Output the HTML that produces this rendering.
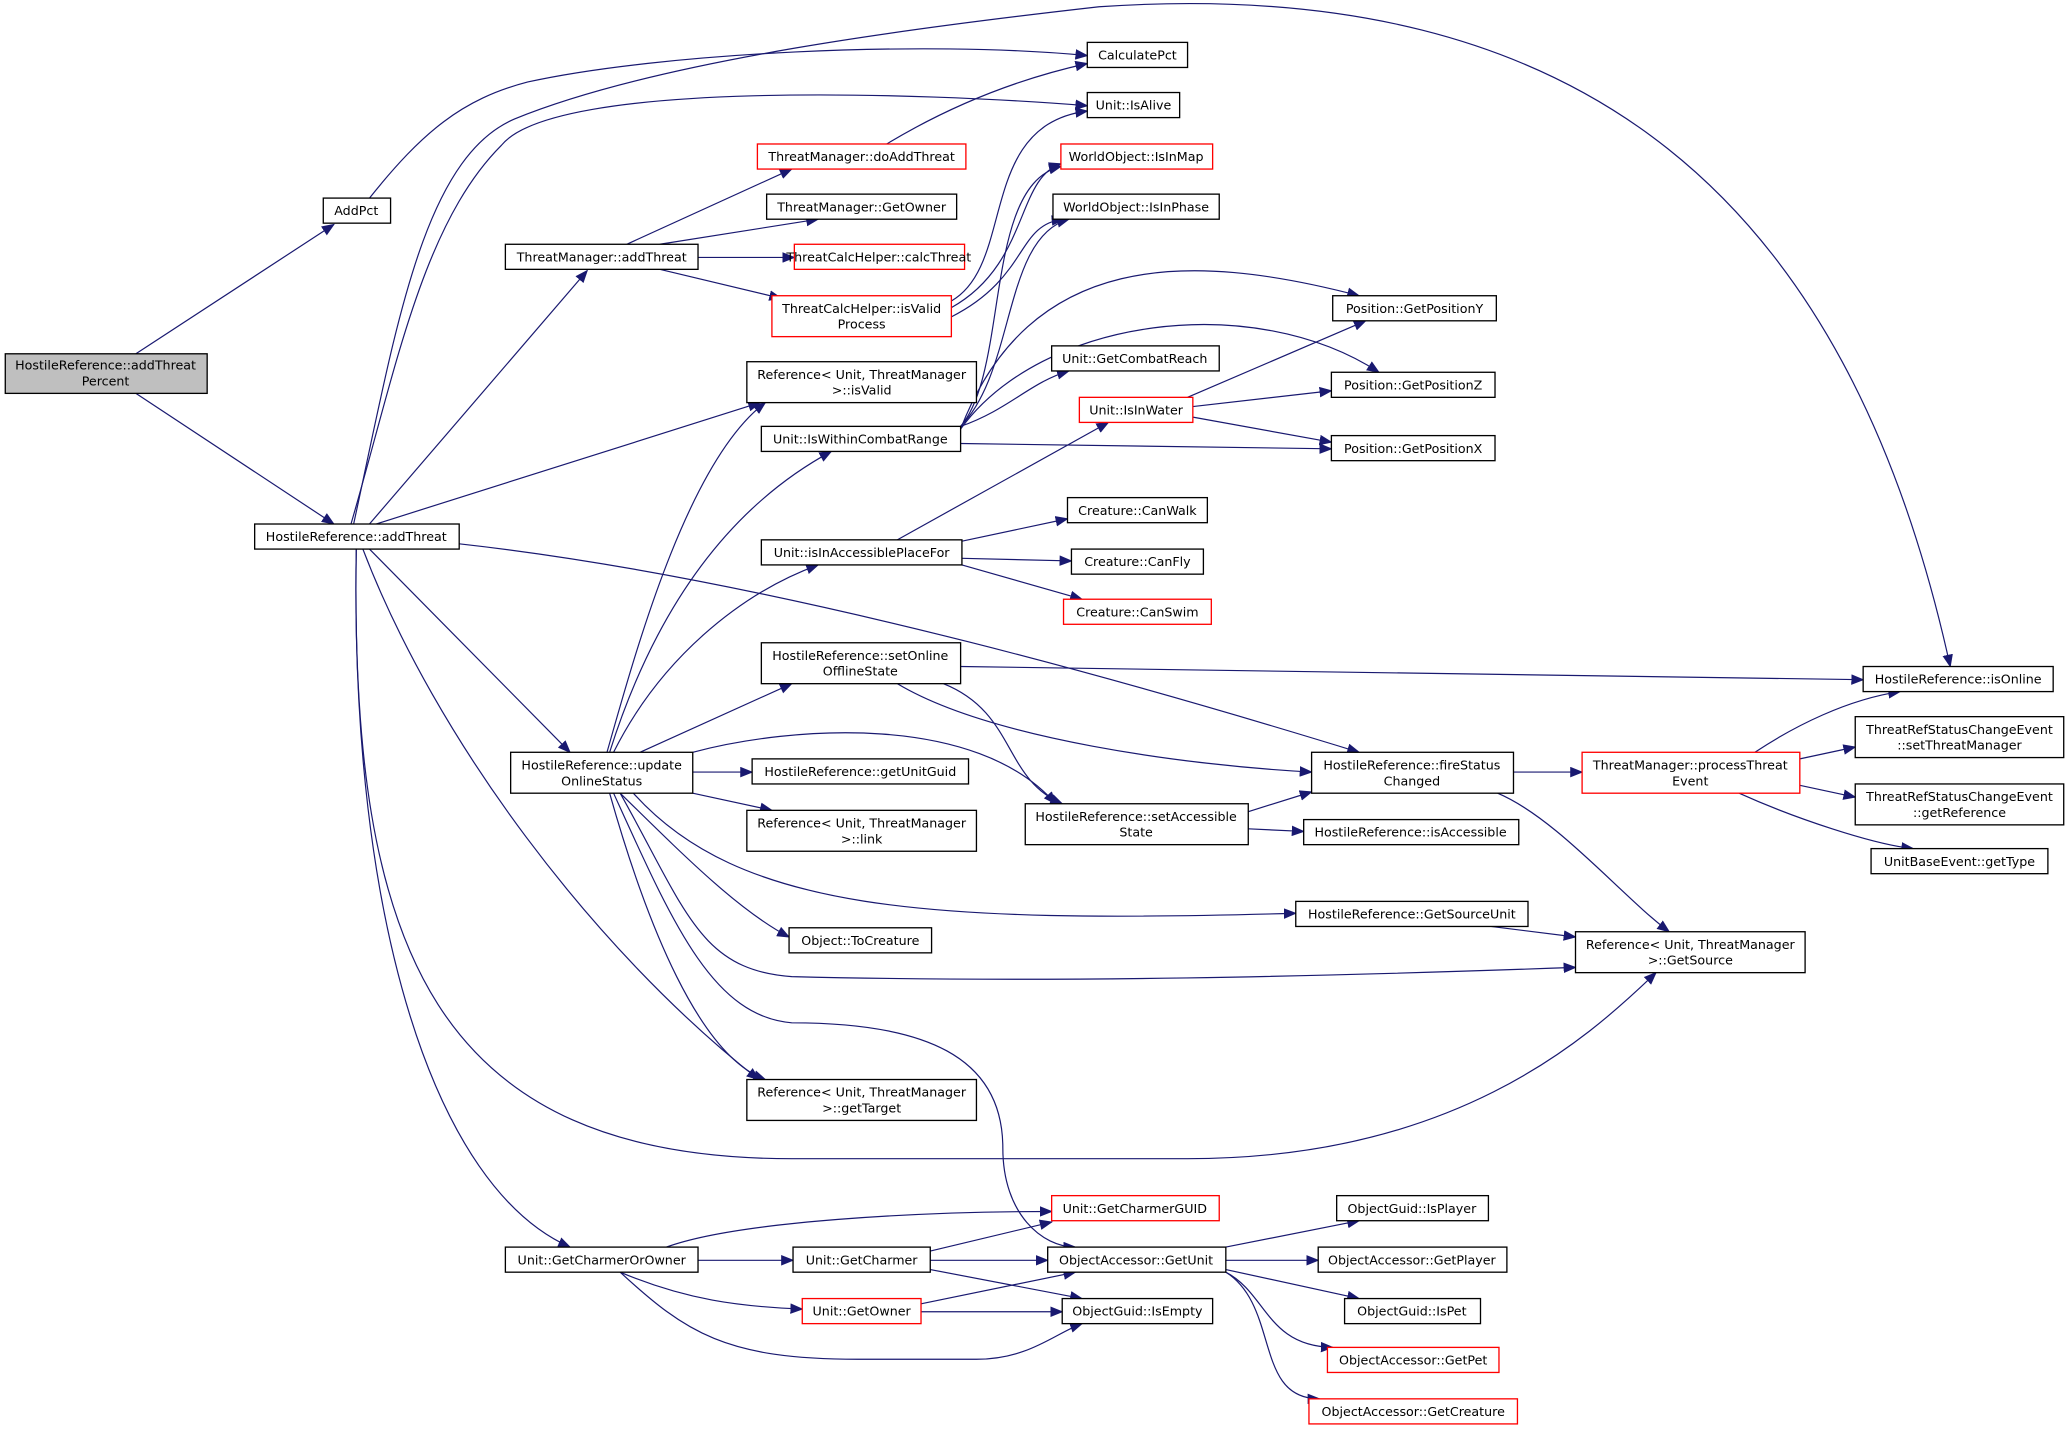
<!DOCTYPE html>
<html><head><meta charset="utf-8"><style>
html,body{margin:0;padding:0;background:#fff;}
svg{display:block;}
text{font-family:"DejaVu Sans","Liberation Sans",sans-serif;font-size:9.6px;fill:#000;text-anchor:middle;}
.n{fill:#fff;stroke:#000;stroke-width:1;}
.r{fill:#fff;stroke:#ff0000;stroke-width:1;}
.g{fill:#bfbfbf;stroke:#000;stroke-width:1;}
.e{fill:none;stroke:#191970;stroke-width:0.9;marker-end:url(#a);}
</style></head><body>
<svg width="2069" height="1432" viewBox="0 0 1568 1085" xmlns="http://www.w3.org/2000/svg">
<defs><marker id="a" markerWidth="10" markerHeight="8" refX="9" refY="4" orient="auto" markerUnits="userSpaceOnUse"><path d="M0,0 L10,4 L0,8 z" fill="#191970"/></marker></defs>
<g>
<path class="e" d="M103,268 L253,170"/>
<path class="e" d="M103,298 L253,397"/>
<path class="e" d="M280,150 C320,100 350,75 400,62 C500,40 700,30 824,42"/>
<path class="e" d="M266,397 C300,280 320,170 380,110 C420,60 700,70 824,80"/>
<path class="e" d="M268,397 C300,250 320,120 390,90 C500,45 700,20 833,5 C1200,-20 1400,150 1478,505"/>
<path class="e" d="M280,397 L445,205"/>
<path class="e" d="M285,397 L576,305"/>
<path class="e" d="M348,412 C600,440 900,530 1030,570"/>
<path class="e" d="M280,416 L432,570"/>
<path class="e" d="M275,416 C330,560 450,720 575,818"/>
<path class="e" d="M270,416 C265,720 330,878 600,878 L900,878 C1100,878 1200,790 1255,737"/>
<path class="e" d="M270,416 C265,700 330,900 432,945"/>
<path class="e" d="M475,185 L600,128"/>
<path class="e" d="M500,185 L620,166"/>
<path class="e" d="M529,195 L602,195"/>
<path class="e" d="M500,204 L592,226"/>
<path class="e" d="M672,109 C720,80 770,60 824,48"/>
<path class="e" d="M721,228 C770,200 740,95 824,84"/>
<path class="e" d="M721,233 C780,200 770,135 804,124"/>
<path class="e" d="M721,240 C780,210 770,170 806,166"/>
<path class="e" d="M728,323 C765,280 745,140 804,126"/>
<path class="e" d="M728,323 C770,280 760,180 810,166"/>
<path class="e" d="M728,325 C780,190 900,190 1030,224"/>
<path class="e" d="M728,325 C790,240 950,220 1045,282"/>
<path class="e" d="M728,323 C765,310 780,290 810,281"/>
<path class="e" d="M728,336 L1009,340"/>
<path class="e" d="M900,301 L1035,243"/>
<path class="e" d="M904,308 L1009,296"/>
<path class="e" d="M904,316 L1009,335"/>
<path class="e" d="M680,409 L840,320"/>
<path class="e" d="M729,410 L809,393"/>
<path class="e" d="M729,423 L812,425"/>
<path class="e" d="M729,428 L820,454"/>
<path class="e" d="M460,570 C480,500 520,350 580,305"/>
<path class="e" d="M462,570 C500,450 560,380 630,342"/>
<path class="e" d="M465,570 C500,500 560,450 620,428"/>
<path class="e" d="M485,570 L600,518"/>
<path class="e" d="M525,585 L570,585"/>
<path class="e" d="M525,601 L585,614"/>
<path class="e" d="M525,570 C600,550 740,540 800,609"/>
<path class="e" d="M470,601 C520,650 560,690 598,710"/>
<path class="e" d="M480,601 C560,690 700,700 982,692"/>
<path class="e" d="M470,601 C520,690 530,735 600,740 C800,745 1000,740 1194,733"/>
<path class="e" d="M462,601 C490,700 530,800 580,818"/>
<path class="e" d="M465,601 C510,700 540,770 600,775 C700,775 760,800 760,870 C760,920 790,945 815,945"/>
<path class="e" d="M728,505 L1412,515"/>
<path class="e" d="M680,518 C750,560 900,580 994,585"/>
<path class="e" d="M715,518 C770,540 760,590 805,609"/>
<path class="e" d="M946,615 L994,600"/>
<path class="e" d="M946,628 L988,630"/>
<path class="e" d="M1147,585 L1199,585"/>
<path class="e" d="M1135,601 C1180,620 1230,680 1265,706"/>
<path class="e" d="M1330,570 C1360,550 1400,530 1440,524"/>
<path class="e" d="M1364,575 L1406,566"/>
<path class="e" d="M1364,595 L1406,604"/>
<path class="e" d="M1318,601 C1360,620 1420,640 1450,643"/>
<path class="e" d="M1130,702 L1194,710"/>
<path class="e" d="M505,945 C560,925 700,918 797,918"/>
<path class="e" d="M529,955 L601,955"/>
<path class="e" d="M470,964 C520,985 560,990 608,992"/>
<path class="e" d="M470,964 C520,1010 550,1030 650,1030 L740,1030 C780,1030 800,1010 820,1003"/>
<path class="e" d="M705,948 L797,926"/>
<path class="e" d="M705,955 L794,955"/>
<path class="e" d="M705,962 L820,984"/>
<path class="e" d="M698,988 L815,964"/>
<path class="e" d="M698,994 L805,994"/>
<path class="e" d="M929,945 L1030,925"/>
<path class="e" d="M929,955 L999,955"/>
<path class="e" d="M929,962 L1030,984"/>
<path class="e" d="M929,964 C960,980 960,1020 1010,1021"/>
<path class="e" d="M929,964 C970,990 950,1060 1000,1060"/>
</g>
<g>
<rect class="g" x="4" y="268" width="153" height="30"/><text x="80" y="280">HostileReference::addThreat</text><text x="80" y="292">Percent</text>
<rect class="n" x="245" y="150" width="51" height="19"/><text x="270" y="163">AddPct</text>
<rect class="n" x="193" y="397" width="155" height="19"/><text x="270" y="410">HostileReference::addThreat</text>
<rect class="n" x="824" y="32" width="76" height="19"/><text x="862" y="45">CalculatePct</text>
<rect class="n" x="824" y="70" width="70" height="19"/><text x="859" y="83">Unit::IsAlive</text>
<rect class="r" x="574" y="109" width="158" height="19"/><text x="653" y="122">ThreatManager::doAddThreat</text>
<rect class="n" x="581" y="147" width="144" height="19"/><text x="653" y="160">ThreatManager::GetOwner</text>
<rect class="n" x="383" y="185" width="146" height="19"/><text x="456" y="198">ThreatManager::addThreat</text>
<rect class="r" x="602" y="185" width="129" height="19"/><text x="666" y="198">ThreatCalcHelper::calcThreat</text>
<rect class="r" x="585" y="224" width="136" height="31"/><text x="653" y="237">ThreatCalcHelper::isValid</text><text x="653" y="249">Process</text>
<rect class="r" x="804" y="109" width="115" height="19"/><text x="861" y="122">WorldObject::IsInMap</text>
<rect class="n" x="798" y="147" width="126" height="19"/><text x="861" y="160">WorldObject::IsInPhase</text>
<rect class="n" x="1010" y="224" width="124" height="19"/><text x="1072" y="237">Position::GetPositionY</text>
<rect class="n" x="797" y="262" width="127" height="19"/><text x="860" y="275">Unit::GetCombatReach</text>
<rect class="n" x="1009" y="282" width="124" height="19"/><text x="1071" y="295">Position::GetPositionZ</text>
<rect class="r" x="818" y="301" width="86" height="19"/><text x="861" y="314">Unit::IsInWater</text>
<rect class="n" x="1009" y="330" width="124" height="19"/><text x="1071" y="343">Position::GetPositionX</text>
<rect class="n" x="566" y="274" width="174" height="31"/><text x="653" y="287">Reference&lt; Unit, ThreatManager</text><text x="653" y="299">&gt;::isValid</text>
<rect class="n" x="577" y="323" width="151" height="19"/><text x="652" y="336">Unit::IsWithinCombatRange</text>
<rect class="n" x="809" y="377" width="106" height="19"/><text x="862" y="390">Creature::CanWalk</text>
<rect class="n" x="577" y="409" width="152" height="19"/><text x="653" y="422">Unit::isInAccessiblePlaceFor</text>
<rect class="n" x="812" y="416" width="100" height="19"/><text x="862" y="429">Creature::CanFly</text>
<rect class="r" x="806" y="454" width="112" height="19"/><text x="862" y="467">Creature::CanSwim</text>
<rect class="n" x="577" y="487" width="151" height="31"/><text x="652" y="500">HostileReference::setOnline</text><text x="652" y="512">OfflineState</text>
<rect class="n" x="1412" y="505" width="144" height="19"/><text x="1484" y="518">HostileReference::isOnline</text>
<rect class="n" x="387" y="570" width="138" height="31"/><text x="456" y="583">HostileReference::update</text><text x="456" y="595">OnlineStatus</text>
<rect class="n" x="570" y="575" width="164" height="19"/><text x="652" y="588">HostileReference::getUnitGuid</text>
<rect class="n" x="566" y="614" width="174" height="31"/><text x="653" y="627">Reference&lt; Unit, ThreatManager</text><text x="653" y="639">&gt;::link</text>
<rect class="n" x="777" y="609" width="169" height="31"/><text x="861" y="622">HostileReference::setAccessible</text><text x="861" y="634">State</text>
<rect class="n" x="994" y="570" width="153" height="31"/><text x="1070" y="583">HostileReference::fireStatus</text><text x="1070" y="595">Changed</text>
<rect class="n" x="988" y="621" width="163" height="19"/><text x="1069" y="634">HostileReference::isAccessible</text>
<rect class="r" x="1199" y="570" width="165" height="31"/><text x="1281" y="583">ThreatManager::processThreat</text><text x="1281" y="595">Event</text>
<rect class="n" x="1406" y="543" width="158" height="31"/><text x="1485" y="556">ThreatRefStatusChangeEvent</text><text x="1485" y="568">::setThreatManager</text>
<rect class="n" x="1406" y="594" width="158" height="31"/><text x="1485" y="607">ThreatRefStatusChangeEvent</text><text x="1485" y="619">::getReference</text>
<rect class="n" x="1418" y="643" width="134" height="19"/><text x="1485" y="656">UnitBaseEvent::getType</text>
<rect class="n" x="982" y="683" width="176" height="19"/><text x="1070" y="696">HostileReference::GetSourceUnit</text>
<rect class="n" x="1194" y="706" width="174" height="31"/><text x="1281" y="719">Reference&lt; Unit, ThreatManager</text><text x="1281" y="731">&gt;::GetSource</text>
<rect class="n" x="598" y="703" width="108" height="19"/><text x="652" y="716">Object::ToCreature</text>
<rect class="n" x="566" y="818" width="174" height="31"/><text x="653" y="831">Reference&lt; Unit, ThreatManager</text><text x="653" y="843">&gt;::getTarget</text>
<rect class="r" x="797" y="906" width="127" height="19"/><text x="860" y="919">Unit::GetCharmerGUID</text>
<rect class="n" x="1013" y="906" width="115" height="19"/><text x="1070" y="919">ObjectGuid::IsPlayer</text>
<rect class="n" x="383" y="945" width="146" height="19"/><text x="456" y="958">Unit::GetCharmerOrOwner</text>
<rect class="n" x="601" y="945" width="104" height="19"/><text x="653" y="958">Unit::GetCharmer</text>
<rect class="n" x="794" y="945" width="135" height="19"/><text x="861" y="958">ObjectAccessor::GetUnit</text>
<rect class="n" x="999" y="945" width="143" height="19"/><text x="1070" y="958">ObjectAccessor::GetPlayer</text>
<rect class="r" x="608" y="984" width="90" height="19"/><text x="653" y="997">Unit::GetOwner</text>
<rect class="n" x="805" y="984" width="114" height="19"/><text x="862" y="997">ObjectGuid::IsEmpty</text>
<rect class="n" x="1019" y="984" width="103" height="19"/><text x="1070" y="997">ObjectGuid::IsPet</text>
<rect class="r" x="1006" y="1021" width="130" height="19"/><text x="1071" y="1034">ObjectAccessor::GetPet</text>
<rect class="r" x="992" y="1060" width="158" height="19"/><text x="1071" y="1073">ObjectAccessor::GetCreature</text>
</g>
</svg>
</body></html>
